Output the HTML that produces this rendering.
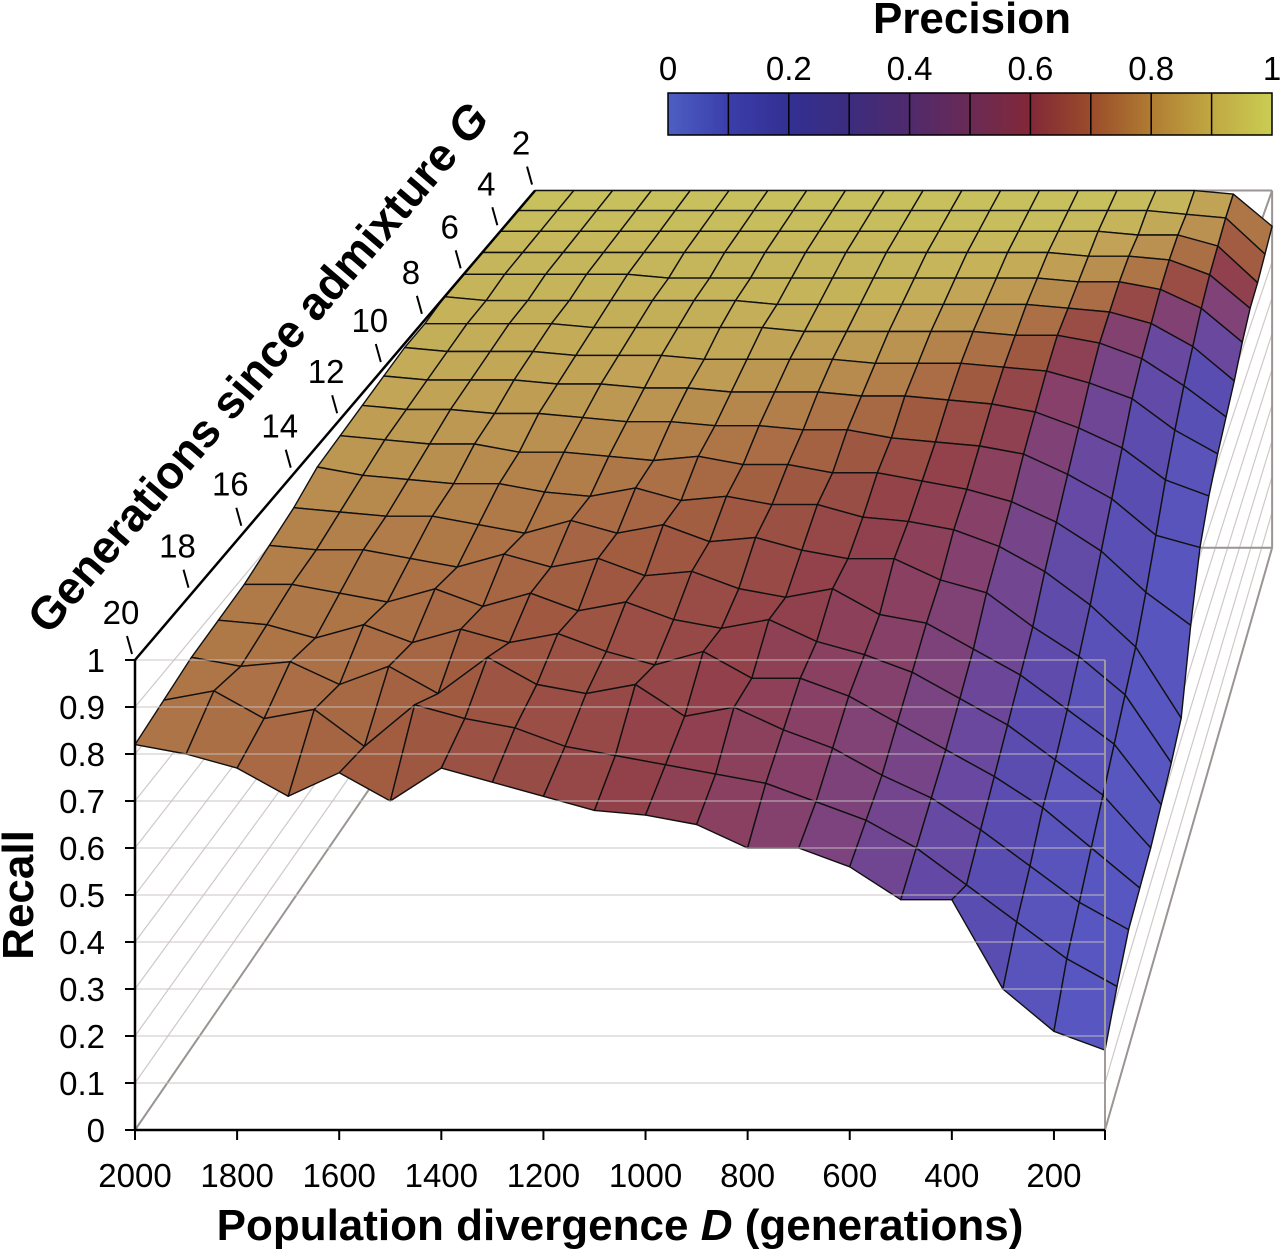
<!DOCTYPE html>
<html><head><meta charset="utf-8"><style>
html,body{margin:0;padding:0;background:#fff;}
svg{display:block;font-family:"Liberation Sans",sans-serif;}
</style></head><body>
<svg id="chart" width="1280" height="1250" viewBox="0 0 1280 1250" xmlns="http://www.w3.org/2000/svg">
<defs>
<linearGradient id="cbg" x1="0" x2="1" y1="0" y2="0">
<stop offset="0" stop-color="#4d5fc2"/><stop offset="0.1" stop-color="#3b3eaa"/><stop offset="0.2" stop-color="#323092"/>
<stop offset="0.3" stop-color="#3c2c7e"/><stop offset="0.4" stop-color="#502a6c"/><stop offset="0.5" stop-color="#6a2a55"/>
<stop offset="0.6" stop-color="#822838"/><stop offset="0.7" stop-color="#9a4c2a"/><stop offset="0.8" stop-color="#b07c32"/>
<stop offset="0.9" stop-color="#c0a842"/><stop offset="1" stop-color="#cacd52"/>
</linearGradient>
</defs>
<g id="back"></g>
<g id="surf"></g>
<g id="front"></g>
<g id="axes"></g>
<g>
<rect x="668" y="93" width="604" height="42" fill="url(#cbg)" stroke="#000" stroke-width="1.5"/>
<g id="cbticks"></g>
<text x="972" y="33" font-size="44" font-weight="bold" text-anchor="middle">Precision</text>
</g>
<text x="620" y="1240" font-size="44" font-weight="bold" text-anchor="middle">Population divergence <tspan font-style="italic">D</tspan> (generations)</text>
<text transform="translate(33,895) rotate(-90)" font-size="44" font-weight="bold" text-anchor="middle">Recall</text>
<text transform="translate(270,378) rotate(-49.4)" font-size="46" font-weight="bold" text-anchor="middle">Generations since admixture <tspan font-style="italic">G</tspan></text>
</svg>
<script>
const dValues=[2000,1900,1800,1700,1600,1500,1400,1300,1200,1100,1000,900,800,700,600,500,400,300,200,100];
const gValues=[2,3,4,5,6,7,8,9,10,11,12,13,14,15,16,17,18,19,20];
const recallRows=[
[1,1,1,1,1,1,1,1,1,1,1,1,1,1,1,1,1,1,.99,.90],
[1,1,1,1,1,1,1,1,1,1,1,1,1,1,1,1,1,.99,.98,.88],
[1,1,1,1,1,1,1,1,1,1,1,1,1,1,1,1,.99,.99,.96,.86],
[1,1,1,1,1,1,1,1,1,1,1,1,1,1,1,.99,.99,.98,.94,.85],
[1,1,1,1,1,.99,.99,.99,.99,.99,.99,.99,.99,.99,.99,.98,.98,.96,.91,.82],
[1,.99,.99,.99,.99,.99,.99,.99,.98,.98,.98,.98,.98,.98,.98,.97,.96,.93,.87,.78],
[.99,.99,.99,.99,.98,.98,.98,.98,.98,.97,.97,.97,.97,.97,.96,.96,.94,.90,.83,.75],
[.99,.98,.98,.98,.97,.97,.97,.96,.96,.96,.96,.95,.95,.95,.94,.93,.90,.86,.78,.72],
[.98,.97,.97,.97,.96,.96,.95,.95,.94,.94,.94,.93,.93,.92,.91,.89,.85,.80,.72,.68],
[.97,.96,.96,.95,.95,.94,.93,.93,.92,.92,.91,.91,.89,.88,.87,.85,.80,.74,.65,.62],
[.96,.95,.94,.94,.92,.92,.91,.90,.91,.89,.89,.87,.87,.85,.83,.80,.75,.68,.58,.50],
[.95,.93,.92,.91,.91,.89,.88,.90,.87,.88,.86,.86,.83,.82,.80,.76,.70,.62,.52,.35],
[.92,.91,.90,.90,.88,.86,.89,.86,.88,.84,.85,.82,.80,.80,.75,.72,.64,.57,.48,.32],
[.90,.89,.89,.87,.85,.88,.85,.87,.83,.84,.80,.78,.80,.74,.72,.66,.60,.52,.44,.30],
[.88,.88,.86,.84,.87,.83,.86,.82,.84,.80,.78,.80,.75,.72,.68,.62,.56,.48,.40,.28],
[.87,.86,.83,.86,.82,.85,.82,.84,.80,.77,.80,.74,.74,.70,.64,.58,.52,.45,.36,.27],
[.86,.84,.85,.80,.84,.78,.86,.80,.78,.80,.73,.75,.70,.66,.60,.55,.48,.40,.32,.26],
[.84,.86,.80,.82,.74,.83,.80,.78,.74,.72,.70,.68,.66,.62,.58,.52,.44,.36,.28,.22],
[.82,.80,.77,.71,.76,.70,.77,.74,.71,.68,.67,.65,.60,.60,.56,.49,.49,.30,.21,.17]];
const precisionRows=[
[.97,.97,.97,.97,.97,.97,.97,.97,.97,.97,.97,.97,.97,.97,.97,.97,.97,.95,.90,.75],
[.97,.97,.97,.97,.97,.97,.97,.97,.97,.97,.97,.97,.97,.97,.97,.97,.95,.93,.85,.65],
[.96,.96,.96,.96,.96,.96,.96,.96,.96,.96,.96,.96,.96,.96,.96,.94,.92,.88,.78,.55],
[.95,.95,.95,.95,.95,.95,.95,.95,.95,.95,.95,.95,.95,.95,.93,.90,.86,.78,.62,.40],
[.95,.95,.95,.95,.95,.95,.95,.95,.95,.95,.95,.95,.94,.92,.90,.86,.80,.70,.50,.30],
[.94,.94,.94,.94,.94,.94,.94,.94,.94,.94,.93,.93,.91,.88,.84,.76,.62,.42,.25,.18],
[.94,.94,.93,.93,.93,.93,.93,.93,.92,.92,.91,.90,.88,.84,.78,.70,.52,.35,.20,.15],
[.93,.93,.92,.92,.92,.92,.91,.91,.90,.89,.88,.86,.82,.76,.70,.60,.45,.28,.17,.12],
[.92,.92,.91,.91,.90,.90,.89,.88,.87,.85,.83,.80,.76,.70,.64,.55,.40,.24,.15,.10],
[.91,.90,.90,.89,.88,.87,.86,.84,.82,.80,.77,.73,.69,.65,.60,.52,.36,.22,.14,.10],
[.89,.88,.87,.86,.85,.83,.82,.80,.78,.75,.72,.68,.65,.61,.56,.48,.33,.20,.13,.09],
[.87,.86,.85,.84,.82,.80,.78,.76,.74,.71,.69,.66,.62,.58,.54,.45,.30,.19,.12,.09],
[.84,.83,.82,.81,.80,.78,.76,.73,.71,.69,.67,.63,.60,.56,.52,.42,.28,.18,.12,.08],
[.82,.81,.80,.79,.77,.75,.73,.71,.69,.67,.64,.61,.58,.54,.50,.40,.27,.17,.11,.08],
[.81,.80,.79,.78,.76,.74,.72,.69,.67,.65,.63,.60,.56,.52,.48,.38,.26,.16,.11,.08],
[.80,.79,.78,.77,.75,.73,.70,.68,.66,.64,.62,.58,.54,.50,.45,.36,.25,.16,.10,.08],
[.80,.78,.77,.76,.74,.72,.69,.67,.65,.63,.60,.57,.53,.48,.42,.34,.24,.15,.10,.08],
[.79,.78,.76,.75,.73,.71,.68,.66,.64,.62,.59,.56,.52,.47,.40,.32,.23,.15,.10,.08],
[.79,.77,.75,.73,.71,.69,.67,.65,.63,.61,.58,.54,.50,.45,.38,.30,.22,.15,.10,.08]];
const recallTicks=[0,0.1,0.2,0.3,0.4,0.5,0.6,0.7,0.8,0.9,1];
const dTicks=[2000,1800,1600,1400,1200,1000,800,600,400,200];
const gTicks=[2,4,6,8,10,12,14,16,18,20];
const precTicks=[0,0.2,0.4,0.6,0.8,1];

const NS='http://www.w3.org/2000/svg';
const VX=1801,VY=-1295,K=0.316;
function uOf(d){return (2000-d)/1900;}
function tOf(g){return (20-g)/18;}
function P(u,t,r){const s=1/(1+K*t);const fx=135+u*970,fy=1130-r*470;return [VX+(fx-VX)*s,VY+(fy-VY)*s];}
function mk(tag,attrs,parent){const e=document.createElementNS(NS,tag);for(const k in attrs)e.setAttribute(k,attrs[k]);parent.appendChild(e);return e;}
function line(p,q,parent,stroke,w){return mk('line',{x1:p[0],y1:p[1],x2:q[0],y2:q[1],stroke:stroke,'stroke-width':w},parent);}
const surfStops=[[0,[90,96,200]],[.1,[88,86,192]],[.2,[90,76,176]],[.3,[104,72,160]],[.4,[120,68,134]],[.5,[134,64,106]],[.6,[146,64,74]],[.7,[160,90,64]],[.8,[176,122,72]],[.9,[192,160,85]],[1,[204,204,96]]];
function col(v){v=Math.max(0,Math.min(1,v));for(let i=1;i<surfStops.length;i++){if(v<=surfStops[i][0]){const a=surfStops[i-1],b=surfStops[i];const f=(v-a[0])/(b[0]-a[0]);const c=a[1].map((x,j)=>Math.round(x+(b[1][j]-x)*f));return 'rgb('+c.join(',')+')';}}return 'rgb(204,204,96)';}

const back=document.getElementById('back');
const G1='#cfc8c8',BOX='#9a9492';
recallTicks.forEach(r=>{
  const l1=line(P(0,0,r),P(0,1,r),back,G1,1.2);
  
  
  const l2=line(P(1,0,r),P(1,1,r),back,G1,1.2);
  
  
});
[[P(0,1,0),P(0,1,1)],[P(0,1,0),P(1,1,0)],[P(1,1,0),P(1,1,1)],[P(0,1,1),P(1,1,1)],[P(0,0,0),P(0,1,0)],[P(1,0,0),P(1,1,0)],[P(1,0,1),P(1,1,1)]].forEach(s=>{
  const l=line(s[0],s[1],back,BOX,2);
  
  
});

const surf=document.getElementById('surf');
for(let gi=0;gi<gValues.length-1;gi++){
  for(let di=0;di<dValues.length-1;di++){
    const pts=[[di,gi],[di+1,gi],[di+1,gi+1],[di,gi+1]].map(([a,b])=>P(uOf(dValues[a]),tOf(gValues[b]),recallRows[b][a]));
    const pv=(precisionRows[gi][di]+precisionRows[gi][di+1]+precisionRows[gi+1][di]+precisionRows[gi+1][di+1])/4;
    const poly=mk('polygon',{points:pts.map(p=>p[0].toFixed(1)+','+p[1].toFixed(1)).join(' '),fill:col(pv),stroke:'#111','stroke-width':1.4,'stroke-linejoin':'round'},surf);
    
    
  }
}

const front=document.getElementById('front');
recallTicks.forEach(r=>{
  const l=line(P(0,0,r),P(1,0,r),front,'#c9c2c2',1.2);
  
  
  l.setAttribute('opacity','0.75');
});
const fr=line(P(1,0,0),P(1,0,1),front,'#a09a98',2);



const axes=document.getElementById('axes');
const xa=line(P(0,0,0),P(1,0,0),axes,'#000',2.5);


const ya=line(P(0,0,0),P(0,0,1),axes,'#000',2.5);


const ga=line(P(0,0,1),P(0,1,1),axes,'#000',2.5);


recallTicks.forEach(r=>{
  const p=P(0,0,r);
  const tk=line(p,[p[0]-10,p[1]],axes,'#000',2);
  
  
  const tx=mk('text',{x:p[0]-30,y:p[1]+12,'font-size':33,'text-anchor':'end'},axes);
  tx.textContent=String(r);
  
  
});
dTicks.concat([100]).forEach(d=>{
  const p=P(uOf(d),0,0);
  const tk=line(p,[p[0],p[1]+10],axes,'#000',2);
  
  
});
dTicks.forEach(d=>{
  const p=P(uOf(d),0,0);
  const tx=mk('text',{x:p[0],y:p[1]+57,'font-size':33,'text-anchor':'middle'},axes);
  tx.textContent=String(d);
  
  
});
gTicks.forEach(g=>{
  const p=P(0,tOf(g),1);
  const tk=line([p[0]-3,p[1]-6],[p[0]-8,p[1]-24],axes,'#000',2);
  
  
  const tx=mk('text',{x:p[0]-14,y:p[1]-36,'font-size':33,'text-anchor':'middle'},axes);
  tx.textContent=String(g);
  
  
});

const cb=document.getElementById('cbticks');
for(let i=1;i<10;i++){
  const x=668+604*i/10;
  const l=line([x,93],[x,135],cb,'#000',1.5);
  
  
}
precTicks.forEach(v=>{
  const tx=mk('text',{x:668+604*v,y:80,'font-size':33,'text-anchor':'middle'},cb);
  tx.textContent=String(v);
  
  
});
</script>
</body></html>
